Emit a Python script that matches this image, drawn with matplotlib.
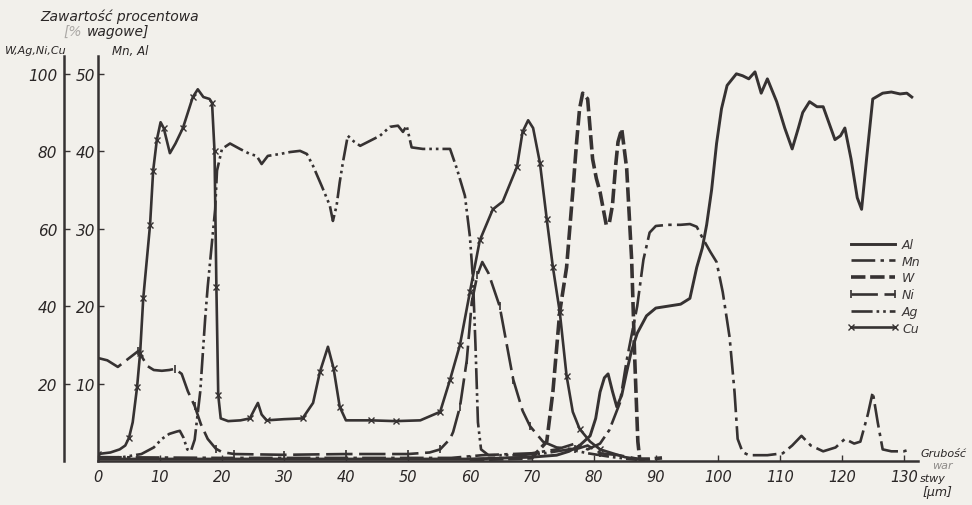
import matplotlib
matplotlib.use("Agg")
import matplotlib.pyplot as plt

plt.rcParams["font.family"] = ["DejaVu Sans"]
plt.rcParams["font.style"] = "italic"

INK = "#363232"
PAPER = "#f2f0eb"

# ---------------------------------------------------------------------------
# data: left scale (W, Ag, Ni, Cu) in %, right scale (Mn, Al) in %
# ---------------------------------------------------------------------------
cu_x = [0, 2, 3.5, 4.4, 5, 5.6, 6.3, 6.8, 7.3, 8.4, 8.9, 9.5, 10.1, 10.6, 11.6,
        12.5, 13.7, 14.5, 15.3, 16.1, 17, 18, 18.4, 18.8, 19.1, 19.4, 19.8, 21,
        23, 24.5, 25.3, 25.8, 26.4, 27.2, 30, 33, 34.7, 35.8, 37.1, 38, 39, 40,
        44, 48, 52, 55.2, 56.8, 58.4, 60, 61.6, 63.7, 65.3, 67.6, 68.5, 69.4,
        70.2, 71.3, 72.4, 73.4, 74.5, 75.6, 76.6, 77.7, 79.4, 81, 85, 88]
cu_y = [1.8, 2.2, 3, 4, 6, 10, 19, 28, 42, 61, 75, 83, 87.5, 86, 79.5,
        82, 86, 90, 94, 96, 94, 93.5, 92.5, 80, 45, 17, 11, 10.3,
        10.5, 11, 13.5, 15, 12, 10.5, 10.8, 11, 15, 23, 29.5, 24, 14, 10.5,
        10.5, 10.3, 10.5, 12.7, 21, 30, 43.6, 57, 65, 67, 76, 85, 88,
        86, 77, 62.5, 50, 38.5, 22, 12.7, 8.3, 5, 3, 1, 0.3]

ag_x = [0, 4, 7, 9, 10.3, 11.5, 12.7, 13.2, 13.8, 14.4, 15, 15.6, 16.5, 17.3,
        17.7, 18.3, 18.9, 19.2, 20, 21.3, 22.9, 24.5, 25.6, 26.4, 27.4, 29.4,
        31, 32.6, 33.7, 34.7, 36.1, 37.4, 37.9, 38.5, 39, 39.5, 40.3, 41.3,
        42.3, 43.9, 45.5, 47.1, 48.4, 49.2, 49.8, 50.6, 52.4, 55.2, 56.8, 57.9,
        59.2, 60, 60.5, 60.9, 61.3, 61.8, 63, 68, 72, 76, 79, 83, 87]
ag_y = [0.8, 1, 1.8, 3.5, 5.7, 7, 7.6, 7.8, 6, 3, 2.6, 5.5, 18, 37,
        45, 55, 65, 75, 80.6, 82, 80.6, 79.3, 78.8, 76.7, 78.8, 79.3,
        79.8, 80.1, 79.3, 76.2, 71, 66, 62, 66, 72, 77, 84, 82.5,
        81.4, 82.7, 84, 86.3, 86.6, 85, 86.6, 81, 80.6, 80.6, 80.6, 75.5,
        68.5, 58, 47, 30, 10, 3, 1.5, 1.5, 2, 3, 2, 1, 0.3]

ni_x = [0, 1.5, 3.2, 4.8, 6.5, 8, 9, 10.3, 11.5, 12.4, 13.5, 14.5, 15.6, 16.6,
        17.7, 19, 20, 22, 30, 40, 50, 53.5, 55.2, 56.8, 57.3, 58.4, 59.5, 60.3,
        61.2, 62, 63, 64.8, 67, 68.5, 69.7, 71.8, 74, 77, 79, 81, 84, 88]
ni_y = [26.6, 26, 24.3, 26.3, 28.4, 24.5, 23.5, 23.3, 23.5, 23.8, 22.5, 18, 14.2, 9.5,
        5.7, 3.2, 2.3, 1.8, 1.6, 1.8, 1.8, 2.2, 3, 5.7, 7.5, 14, 26, 41,
        48, 51.4, 48.5, 40, 21, 13, 9, 5, 3.5, 3, 4, 2, 1.5, 0.3]

w_x = [60, 70, 72.4, 73.4, 74.5, 75.6, 76.6, 77.2, 77.7, 78.2, 79, 79.8, 80.4,
       81, 82, 82.5, 83, 83.5, 83.9, 84.5, 85.3, 86.1, 86.6, 87.1, 87.4, 89, 91]
w_y = [0.3, 0.8, 5, 18, 38.5, 50, 69.5, 82, 91, 95, 93.5, 78, 73,
       69.5, 61, 61.5, 66, 76, 82.4, 85.8, 75.5, 52, 26.3, 5, 0.5, 0.5, 0.8]

# Mn and Al read on the right-hand scale (0-50 %)
mn_x = [0, 20, 57, 62, 70, 74, 77, 79, 81, 82.5, 84.2, 85.3, 87, 88, 89, 90,
        92, 94, 95.5, 96.6, 97.6, 98.8, 99.8, 100.8, 101.9, 102.7, 103.2, 104,
        105, 108, 110.5, 112, 113.5, 115, 117, 119, 120.5, 122, 123, 124.2,
        125, 125.8, 126.6, 128, 130, 131]
mn_y = [0.5, 0.4, 0.4, 0.75, 1, 1.5, 2.25, 1.5, 2.25, 4, 7.5, 13, 20, 26, 29.5, 30.35,
        30.5, 30.5, 30.6, 30.25, 28.7, 27, 25.7, 21.8, 16, 8.9, 2.85, 1.15,
        0.75, 0.75, 1, 2, 3.25, 2, 1.25, 1.75, 2.85, 2.25, 2.5, 6,
        8.9, 5, 1.5, 1.25, 1.25, 1.5]

al_x = [0, 20, 60, 70, 74, 76, 77.7, 79.4, 80.3, 81, 81.7, 82.3, 83, 83.7, 84.5,
        85.3, 86, 87, 88.5, 90, 92, 94, 95.5, 96.6, 97.5, 98.2, 99, 99.8, 100.6,
        101.5, 103, 104, 105, 106, 107, 108, 109.5, 110.8, 112, 113, 113.7,
        114.8, 116, 117, 118.9, 119.8, 120.5, 121.5, 122.5, 123.2, 124, 125,
        126.6, 128, 129.4, 130.5, 131.3]
al_y = [0.25, 0.25, 0.25, 0.5, 0.75, 1.25, 2, 3.25, 5.5, 8.9, 10.75, 11.25, 9, 7, 8.5,
        11.5, 14, 16.5, 18.75, 19.75, 20, 20.25, 21, 25, 27.5, 30.5, 35, 41, 45.5,
        48.5, 50, 49.75, 49.35, 50.25, 47.5, 49.35, 46.4, 43, 40.3, 43, 45,
        46.4, 45.75, 45.75, 41.5, 42, 43, 39, 34, 32.5, 39, 46.75,
        47.5, 47.65, 47.4, 47.5, 47]

left_ticks = [20, 40, 60, 80, 100]
right_ticks = [10, 20, 30, 40, 50]
x_ticks = [0, 10, 20, 30, 40, 50, 60, 70, 80, 90, 100, 110, 120, 130]

# ---------------------------------------------------------------------------
fig = plt.figure(figsize=(9.72, 5.06), dpi=100, facecolor=PAPER)
ax = fig.add_axes([98 / 972, 44 / 506, 820 / 972, 405 / 506])
ax.set_facecolor(PAPER)
ax.set_xlim(0, 132.3)
ax.set_ylim(0, 104.6)

# right-scale values are drawn at twice their height (50 % Mn/Al = 100 % W...)
al_plot = [v * 2 for v in al_y]
mn_plot = [v * 2 for v in mn_y]

h_al, = ax.plot(al_x, al_plot, color=INK, lw=2.1, ls="-", label="Al")
h_mn, = ax.plot(mn_x, mn_plot, color=INK, lw=1.9, ls=(0, (9, 2, 1.3, 2)), label="Mn")
h_w, = ax.plot(w_x, w_y, color=INK, lw=2.6, ls=(0, (4, 1.3)), label="W")
h_ni, = ax.plot(ni_x, ni_y, color=INK, lw=1.9, ls=(0, (10, 2.5)),
                marker="|", ms=6, mew=1.2, markevery=0.05, label="Ni")
h_ag, = ax.plot(ag_x, ag_y, color=INK, lw=1.9, ls=(0, (8, 1.5, 1, 1.5, 1, 1.5)), label="Ag")
h_cu, = ax.plot(cu_x, cu_y, color=INK, lw=1.9, ls="-",
                marker="x", ms=4.5, mew=1.0, markevery=0.045, label="Cu")

# axes / spines
for s in ("top", "right"):
    ax.spines[s].set_visible(False)
for s in ("left", "bottom"):
    ax.spines[s].set_color(INK)
    ax.spines[s].set_linewidth(1.8)

ax.set_xticks(x_ticks)
ax.set_xticklabels([str(t) for t in x_ticks])
ax.set_yticks(left_ticks)
ax.set_yticklabels([str(t) for t in right_ticks])
ax.tick_params(axis="both", direction="in", length=4, width=1, colors=INK,
               labelsize=11, labelcolor="#2a2626")
ax.tick_params(axis="x", pad=6, labelsize=10.5)
ax.tick_params(axis="y", pad=2)

sec = ax.secondary_yaxis(-34 / 820)
sec.set_yticks(left_ticks)
sec.set_yticklabels([str(t) for t in left_ticks])
sec.spines["left"].set_color(INK)
sec.spines["left"].set_linewidth(1.8)
sec.tick_params(direction="in", length=4, width=1, colors=INK, labelsize=11,
                labelcolor="#2a2626", pad=5)

# legend
leg = ax.legend(handles=[h_al, h_mn, h_w, h_ni, h_ag, h_cu], loc="upper left",
                bbox_to_anchor=(847 / 972, 1 - 239 / 506), bbox_transform=fig.transFigure,
                frameon=False, fontsize=9, handlelength=4.1, handletextpad=0.3,
                labelspacing=0.3, borderpad=0, borderaxespad=0, numpoints=2)
for t in leg.get_texts():
    t.set_color("#3a3636")

# texts
def ftext(x, y, s, **kw):
    fig.text(x / 972, 1 - y / 506, s, color="#2a2626", **kw)

ftext(120, 17, "Zawartość procentowa", fontsize=10, ha="center", va="center")
ftext(73, 32, "[%", fontsize=10, ha="center", va="center", alpha=0.35)
ftext(118, 32, "wagowe]", fontsize=10, ha="center", va="center")
ftext(36, 51, "W,Ag,Ni,Cu", fontsize=8, ha="center", va="center")
ftext(130, 51, "Mn, Al", fontsize=8.5, ha="center", va="center")
ftext(920, 454, "Grubość", fontsize=8, ha="left", va="center")
ftext(932, 466, "war", fontsize=8, ha="left", va="center", alpha=0.5)
ftext(920, 479, "stwy", fontsize=8, ha="left", va="center")
ftext(922, 493, "[μm]", fontsize=9, ha="left", va="center")

fig.savefig("out.png", dpi=100, facecolor=PAPER)
